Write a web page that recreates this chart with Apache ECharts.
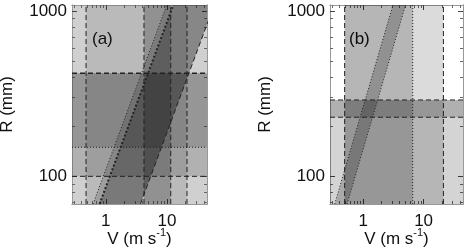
<!DOCTYPE html>
<html>
<head>
<meta charset="utf-8">
<script src="https://cdn.jsdelivr.net/npm/echarts@6/dist/echarts.min.js"></script>
<style>
  html, body { margin: 0; background: #fff; }
  #chart { width: 467px; height: 250px; }
</style>
</head>
<body>
<div id="chart"></div>
<script>
// shared axis limits and ticks (both panels)
const vLim = [0.28, 45];
const rLim = [68, 1090];
const vMajor = [1, 10];
const rMajor = [100, 1000];
const vMinor = [0.3, 0.4, 0.5, 0.6, 0.7, 0.8, 0.9, 2, 3, 4, 5, 6, 7, 8, 9, 20, 30, 40];
const rMinor = [70, 80, 90, 200, 300, 400, 500, 600, 700, 800, 900];

// panel (a): V ranges, R ranges, diagonal limits (two points each: [V, R])
const aVSpans = [[0.475, 21.2], [4.2, 11.5]];
const aRSpans = [[100, 421], [150, 421]];
const aDiag = [
  [[0.618, 68], [9.91, 1090]],
  [[0.791, 68], [12.67, 1090]],
  [[3.68, 68], [58.9, 1090]]
];

// panel (b)
const bVSpans = [[0.49, 21.3], [0.49, 6.6]];
const bRSpans = [[68, 290], [228, 290]];
const bDiag = [
  [[0.335, 68], [3.10, 1090]],
  [[0.537, 68], [5.01, 1090]]
];

const FONT = 'Liberation Sans, Arial, Helvetica, sans-serif';
const INK = '#111';
const DASH = [5, 3];
const DOT = [1, 2];

// shading strength of each layer
const aVAlpha = [0.1, 0.22];
const aRAlpha = [0.15, 0.15];
const aBandAlpha = [0.15, 0.35];
const bVAlpha = [0.14, 0.17];
const bRAlpha = [0.17, 0.17];
const bBandAlpha = [0.2];

function xAxes(grid) {
  const base = {
    type: 'log', logBase: 10, gridIndex: grid, min: vLim[0], max: vLim[1],
    splitLine: { show: false }, axisLabel: { show: false },
    axisLine: { show: true, onZero: false, lineStyle: { color: '#999' } }
  };
  const major = { inside: true, length: 5, customValues: vMajor, lineStyle: { color: '#444' } };
  const minor = { inside: true, length: 3, customValues: vMinor, lineStyle: { color: '#666' } };
  return [
    Object.assign({}, base, {
      position: 'bottom', axisTick: major,
      axisLabel: { show: true, customValues: vMajor, margin: 9, fontSize: 17, fontFamily: FONT, color: INK,
        formatter: v => String(Math.round(v)) },
      name: 'V (m s{sup|-1})', nameLocation: 'middle', nameGap: 23, nameMoveOverlap: false,
      nameTextStyle: { fontSize: 17, fontFamily: FONT, color: INK,
        rich: { sup: { fontSize: 11, fontFamily: FONT, color: INK, padding: [0, 0, 14, 0] } } }
    }),
    Object.assign({}, base, { position: 'top', axisTick: major }),
    Object.assign({}, base, { position: 'bottom', axisTick: minor }),
    Object.assign({}, base, { position: 'top', axisTick: minor })
  ];
}

function yAxes(grid) {
  const base = {
    type: 'log', logBase: 10, gridIndex: grid, min: rLim[0], max: rLim[1],
    splitLine: { show: false }, axisLabel: { show: false },
    axisLine: { show: true, onZero: false, lineStyle: { color: '#999' } }
  };
  const major = { inside: true, length: 5, customValues: rMajor, lineStyle: { color: '#444' } };
  const minor = { inside: true, length: 3, customValues: rMinor, lineStyle: { color: '#666' } };
  return [
    Object.assign({}, base, {
      position: 'left', axisTick: major,
      axisLabel: { show: true, customValues: rMajor, margin: 5, fontSize: 17, fontFamily: FONT, color: INK,
        formatter: v => String(Math.round(v)) },
      name: 'R (mm)', nameLocation: 'middle', nameGap: 56, nameMoveOverlap: false,
      nameTextStyle: { fontSize: 17, fontFamily: FONT, color: INK }
    }),
    Object.assign({}, base, { position: 'right', axisTick: major }),
    Object.assign({}, base, { position: 'left', axisTick: minor }),
    Object.assign({}, base, { position: 'right', axisTick: minor })
  ];
}

// translucent rectangles, either spanning V (full R) or spanning R (full V)
function rectSeries(ax, spans, alphas, dir) {
  return {
    type: 'custom', xAxisIndex: ax, yAxisIndex: ax, clip: true, silent: true, animation: false,
    data: spans.map((s, i) => dir === 'v'
      ? [s[0], s[1], rLim[0], rLim[1], i]
      : [vLim[0], vLim[1], s[0], s[1], i]),
    encode: { x: [0, 1], y: [2, 3] },
    renderItem: (params, api) => {
      const p0 = api.coord([api.value(0), api.value(2)]);
      const p1 = api.coord([api.value(1), api.value(3)]);
      return {
        type: 'rect',
        shape: { x: Math.min(p0[0], p1[0]), y: Math.min(p0[1], p1[1]),
          width: Math.abs(p1[0] - p0[0]), height: Math.abs(p1[1] - p0[1]) },
        style: { fill: 'rgba(0,0,0,' + alphas[api.value(4)] + ')' }
      };
    }
  };
}

// band between two consecutive diagonal lines
function bandSeries(ax, lines, alphas) {
  const data = [];
  for (let i = 0; i < lines.length - 1; i++) {
    const l = lines[i], r = lines[i + 1];
    data.push([l[0][0], l[0][1], l[1][0], l[1][1], r[1][0], r[1][1], r[0][0], r[0][1], i]);
  }
  return {
    type: 'custom', xAxisIndex: ax, yAxisIndex: ax, clip: true, silent: true, animation: false,
    data: data,
    encode: { x: [0, 2, 4, 6], y: [1, 3, 5, 7] },
    renderItem: (params, api) => {
      const pts = [0, 1, 2, 3].map(k => api.coord([api.value(2 * k), api.value(2 * k + 1)]));
      return { type: 'polygon', shape: { points: pts },
        style: { fill: 'rgba(0,0,0,' + alphas[api.value(8)] + ')' } };
    }
  };
}

function edge(ax, pts, dash, width) {
  return {
    type: 'line', xAxisIndex: ax, yAxisIndex: ax, data: pts, symbol: 'none',
    silent: true, animation: false, clip: true,
    lineStyle: { color: '#222', width: width || 1, type: dash }
  };
}
const vEdge = (ax, v, dash, w) => edge(ax, [[v, rLim[0]], [v, rLim[1]]], dash, w);
const rEdge = (ax, r, dash, w) => edge(ax, [[vLim[0], r], [vLim[1], r]], dash, w);

const series = [
  // panel (a)
  rectSeries(0, aVSpans, aVAlpha, 'v'),
  rectSeries(0, aRSpans, aRAlpha, 'r'),
  bandSeries(0, aDiag, aBandAlpha),
  vEdge(0, aVSpans[0][0], DASH), vEdge(0, aVSpans[0][1], DASH),
  vEdge(0, aVSpans[1][0], DASH), vEdge(0, aVSpans[1][1], DASH),
  rEdge(0, aRSpans[0][0], DASH), rEdge(0, aRSpans[0][1], DASH, 1.3),
  rEdge(0, aRSpans[1][0], DOT),
  edge(0, aDiag[0], DOT), edge(0, aDiag[1], [2, 2], 2), edge(0, aDiag[2], DASH),
  // panel (b)
  rectSeries(4, bVSpans, bVAlpha, 'v'),
  rectSeries(4, bRSpans, bRAlpha, 'r'),
  bandSeries(4, bDiag, bBandAlpha),
  vEdge(4, bVSpans[0][0], DASH), vEdge(4, bVSpans[0][1], DASH),
  vEdge(4, bVSpans[1][1], DOT),
  rEdge(4, bRSpans[1][0], DASH), rEdge(4, bRSpans[1][1], DASH),
  edge(4, bDiag[0], DOT), edge(4, bDiag[1], DOT)
];

const chart = echarts.init(document.getElementById('chart'), null, { renderer: 'canvas' });
chart.setOption({
  animation: false,
  grid: [
    { left: 72, top: 5, width: 135, height: 199, outerBoundsMode: 'none', containLabel: false,
      show: true, backgroundColor: '#d0d0d0', borderWidth: 0 },
    { left: 330, top: 5, width: 133, height: 199, outerBoundsMode: 'none', containLabel: false,
      show: true, backgroundColor: '#fff', borderWidth: 0 }
  ],
  xAxis: xAxes(0).concat(xAxes(1)),
  yAxis: yAxes(0).concat(yAxes(1)),
  graphic: [
    { type: 'text', left: 92, top: 31, style: { text: '(a)', fontSize: 17, fontFamily: FONT, fill: INK } },
    { type: 'text', left: 349, top: 31, style: { text: '(b)', fontSize: 17, fontFamily: FONT, fill: INK } }
  ],
  series: series
});
</script>
</body>
</html>
